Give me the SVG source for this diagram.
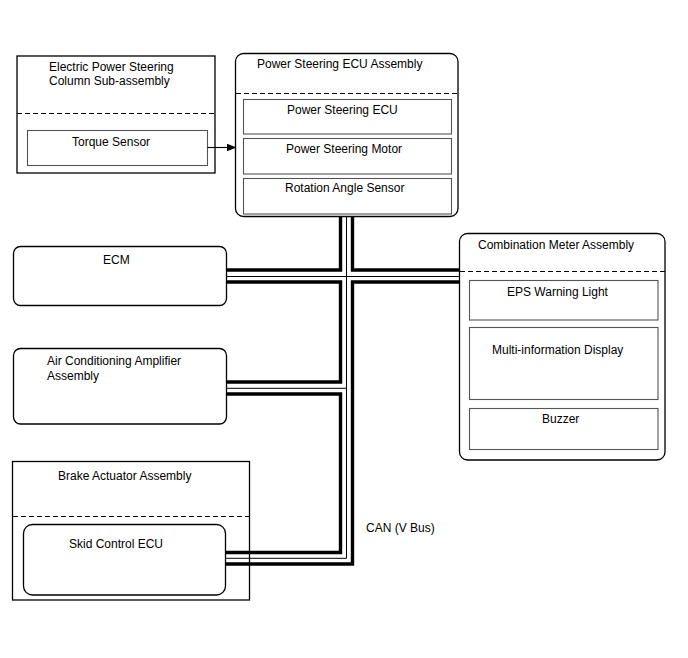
<svg xmlns="http://www.w3.org/2000/svg" width="688" height="658" viewBox="0 0 688 658">
<style>
text{font-family:"Liberation Sans",Arial,sans-serif;font-size:12px;fill:#000}
.outer{fill:#fff;stroke:#000;stroke-width:1.3}
.inner{fill:#fff;stroke:#555;stroke-width:1.1}
.dash{stroke:#000;stroke-width:1;stroke-dasharray:5,3;fill:none}
.thick{fill:none;stroke:#000;stroke-width:3.4;stroke-linejoin:miter}
.thin{fill:none;stroke:#000;stroke-width:1}
</style>
<defs>
<marker id="ah" markerWidth="10" markerHeight="8" refX="9" refY="4" orient="auto" markerUnits="userSpaceOnUse">
<path d="M0,0 L10,4 L0,8 z" fill="#000"/>
</marker>
</defs>

<g id="eps-column">
<rect class="outer" x="17" y="56" width="198" height="117"/>
<text x="49" y="71">Electric Power Steering</text>
<text x="49" y="85">Column Sub-assembly</text>
<line class="dash" x1="17" y1="113.5" x2="215" y2="113.5"/>
<g id="torque-sensor">
<rect class="inner" x="27.5" y="130.5" width="180" height="35"/>
<text x="72" y="146">Torque Sensor</text>
</g>
</g>

<g id="ps-ecu-assembly">
<rect class="outer" x="235.5" y="53.5" width="222.5" height="163" rx="8"/>
<text x="257" y="68">Power Steering ECU Assembly</text>
<line class="dash" x1="236" y1="93.5" x2="457" y2="93.5"/>
<g id="ps-ecu">
<rect class="inner" x="243.5" y="99.5" width="208" height="34.5"/>
<text x="287" y="114">Power Steering ECU</text>
</g>
<g id="ps-motor">
<rect class="inner" x="243.5" y="138.5" width="208" height="35.5"/>
<text x="286" y="153">Power Steering Motor</text>
</g>
<g id="rotation-angle-sensor">
<rect class="inner" x="243.5" y="178.5" width="208" height="35.5"/>
<text x="285" y="192">Rotation Angle Sensor</text>
</g>
</g>

<g id="ecm">
<rect class="outer" x="13.5" y="246.5" width="213" height="59" rx="7"/>
<text x="103" y="264">ECM</text>
</g>

<g id="ac-amplifier">
<rect class="outer" x="13.5" y="348.5" width="213" height="75.5" rx="7"/>
<text x="47" y="365">Air Conditioning Amplifier</text>
<text x="47" y="380">Assembly</text>
</g>

<g id="brake-actuator">
<rect class="outer" x="12.5" y="461.5" width="237" height="138.5"/>
<text x="58" y="480">Brake Actuator Assembly</text>
<line class="dash" x1="13" y1="516.5" x2="249" y2="516.5"/>
<g id="skid-control-ecu">
<rect class="outer" x="23.5" y="524.5" width="202" height="70.5" rx="9" stroke-width="1.1"/>
<text x="69" y="548">Skid Control ECU</text>
</g>
</g>

<g id="combination-meter">
<rect class="outer" x="459.5" y="233.5" width="205.5" height="226.5" rx="8"/>
<text x="478" y="249">Combination Meter Assembly</text>
<line class="dash" x1="460" y1="271.5" x2="665" y2="271.5"/>
<g id="eps-warning-light">
<rect class="inner" x="469.5" y="280.5" width="188.5" height="39.5"/>
<text x="507" y="296">EPS Warning Light</text>
</g>
<g id="multi-info-display">
<rect class="inner" x="469.5" y="327.5" width="188.5" height="72"/>
<text x="492" y="354">Multi-information Display</text>
</g>
<g id="buzzer">
<rect class="inner" x="469.5" y="408.5" width="188.5" height="41"/>
<text x="542" y="423">Buzzer</text>
</g>
</g>

<g id="connectors">
<line x1="207.5" y1="147.5" x2="235.5" y2="147.5" stroke="#000" stroke-width="1.1" marker-end="url(#ah)"/>
<!-- CAN bus outer lines -->
<polyline class="thick" points="340.5,217 340.5,270 227,270"/>
<polyline class="thick" points="227,282 340.5,282 340.5,382 227,382"/>
<polyline class="thick" points="227,394 340.5,394 340.5,552.5 226,552.5"/>
<polyline class="thick" points="352.5,217 352.5,270 459.5,270"/>
<polyline class="thick" points="459.5,282 352.5,282 352.5,564 226,564"/>
<!-- CAN bus center lines -->
<polyline class="thin" points="346.5,217 346.5,558.3 226,558.3"/>
<line class="thin" x1="227" y1="276.5" x2="459.5" y2="276.5"/>
<line class="thin" x1="227" y1="388.3" x2="346.5" y2="388.3"/>
</g>
<text x="366" y="532">CAN (V Bus)</text>
</svg>
